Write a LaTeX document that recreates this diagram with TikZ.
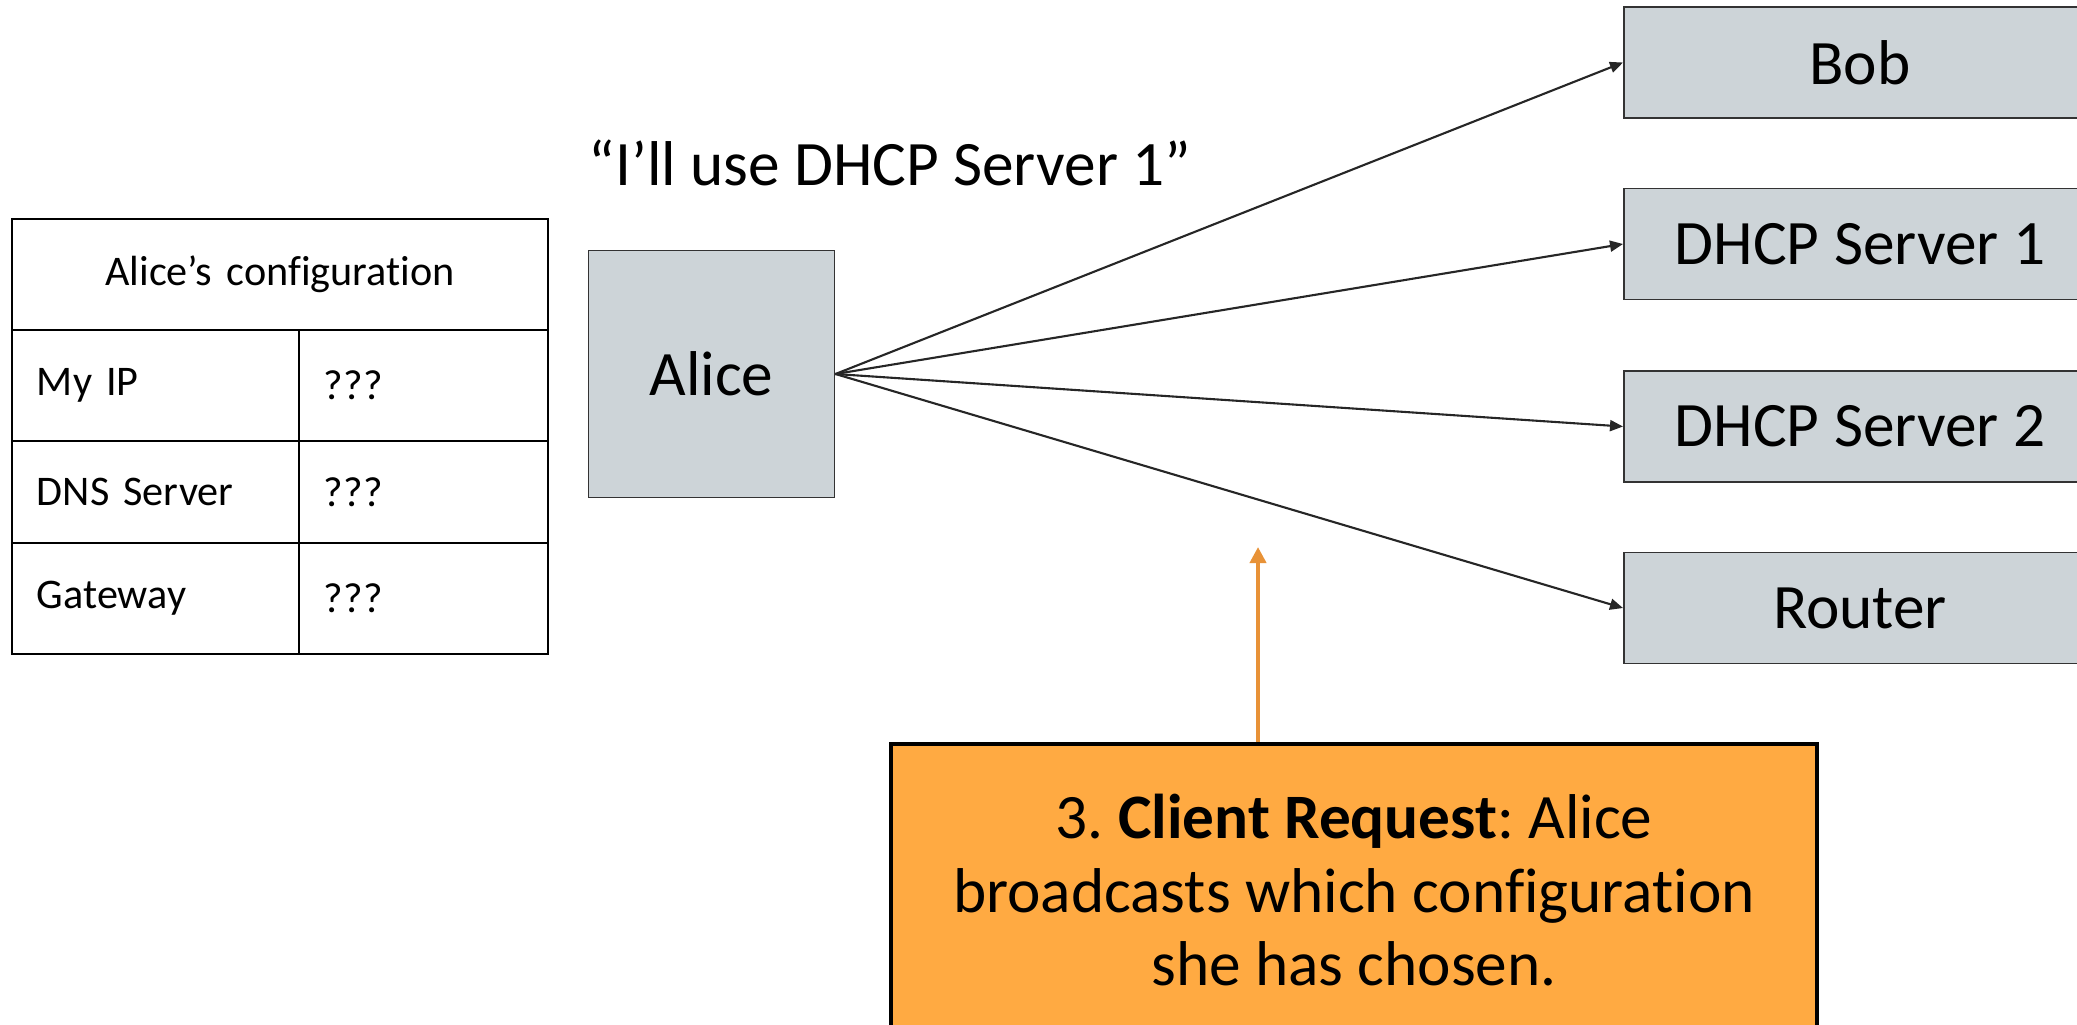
\documentclass[tikz,border=0pt]{standalone}
\usepackage{fontspec}
\setmainfont{Carlito}[Ligatures=NoCommon]
\frenchspacing
\usetikzlibrary{positioning,arrows.meta}
\definecolor{boxgray}{RGB}{205,212,216}
\definecolor{noteorange}{RGB}{255,170,66}
\definecolor{arroworange}{RGB}{232,146,55}
\tikzset{
	>={Triangle[length=0.13cm,width=0.11cm]},
	host/.style={draw=black!80, line width=0.5pt, fill=boxgray, inner sep=0pt,
		font=\fontsize{18}{22}\selectfont, minimum height=1.11cm},
	cell/.style={draw=black, line width=0.7pt, inner xsep=0.25cm, inner ysep=0pt,
		font=\fontsize{12}{14}\selectfont, minimum height=1.11cm, align=left},
	link/.style={->, line width=0.6pt, draw=black!85},
	note/.style={draw=black, line width=1.1pt, fill=noteorange, align=center,
		font=\fontsize{18}{20.8}\selectfont, minimum width=9.26cm, minimum height=2.92cm},
}

\begin{document}
\begin{tikzpicture}[x=0.01cm, y=-0.01cm]
	\useasboundingbox (0,0) rectangle (2077,1024);

	% table
	\node[cell, align=center, text width=4.86cm] (conf) at (280,274.5) {Alice’s configuration};
	\node[cell, text width=2.37cm] (ipkey) at (155.5,385.5) {My IP};
	\node[cell, text width=1.99cm] (ipval) at (423.5,385.5) {???};
	\node[cell, text width=2.37cm, minimum height=1.02cm] (dnskey) at (155.5,492) {DNS Server};
	\node[cell, text width=1.99cm, minimum height=1.02cm] (dnsval) at (423.5,492) {???};
	\node[cell, text width=2.37cm] (gwkey) at (155.5,598.5) {Gateway};
	\node[cell, text width=1.99cm] (gwval) at (423.5,598.5) {???};

	% hosts
	\node[host, minimum width=2.46cm, minimum height=2.47cm] (alice) at (711.5,374) {Alice};
	\node[host, minimum width=4.72cm] (bob) at (1860,62.5) {Bob};
	\node[host, minimum width=4.72cm] (dhcpone) at (1860,244) {DHCP Server 1};
	\node[host, minimum width=4.72cm] (dhcptwo) at (1860,426.5) {DHCP Server 2};
	\node[host, minimum width=4.72cm] (router) at (1860,608) {Router};

	\node[anchor=base, font=\fontsize{18}{22}\selectfont] (quote) at (890,185) {“I’ll use DHCP Server 1”};

	\draw[link] (alice.east) -- (bob.west);
	\draw[link] (alice.east) -- (dhcpone.west);
	\draw[link] (alice.east) -- (dhcptwo.west);
	\draw[link] (alice.east) -- (router.west);

	% step note
	\node[note, anchor=north] (step) at (1354,742) {3. \textbf{Client Request}: Alice\\ broadcasts which configuration\\ she has chosen.};
	\coordinate (steptip) at (1258,547);
	\draw[-{Triangle[length=0.16cm,width=0.16cm]}, line width=1.1pt, arroworange] (steptip |- step.north) -- (steptip);
\end{tikzpicture}
\end{document}
